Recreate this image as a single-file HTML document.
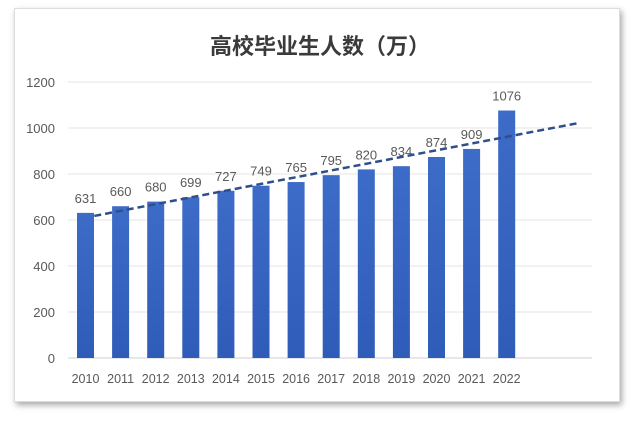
<!DOCTYPE html>
<html><head><meta charset="utf-8"><style>
body{margin:0;background:#fff;}
#card{position:absolute;left:14px;top:8px;width:604px;height:392px;background:#fff;box-shadow:2px 3px 6px rgba(0,0,0,0.35);border:1px solid #ddd;}
svg{position:absolute;left:0;top:0;}
text{font-family:"Liberation Sans","Noto Sans CJK SC",sans-serif;}
</style></head><body>
<div id="card"></div>
<svg id="c" width="640" height="425">
<defs><linearGradient id="g" x1="0" y1="0" x2="0" y2="1"><stop offset="0" stop-color="#3d6bc8"/><stop offset="1" stop-color="#2f5cb8"/></linearGradient></defs>
<text x="320" y="54" text-anchor="middle" font-size="22" font-weight="bold" fill="#3a3a3a">高校毕业生人数（万）</text>
</svg>
<script>
const categories=["2010","2011","2012","2013","2014","2015","2016","2017","2018","2019","2020","2021","2022"];
const values=[631,660,680,699,727,749,765,795,820,834,874,909,1076];
const yTicks=[0,200,400,600,800,1000,1200];
const svg=document.getElementById('c');
const NS='http://www.w3.org/2000/svg';
const y0=358,yTop=82,yMax=1200;
const yS=v=>y0-(v/yMax)*(y0-yTop);
const x0=85.5,step=35.1;
const xS=i=>x0+i*step;
function mk(t,a){const e=document.createElementNS(NS,t);for(const k in a)e.setAttribute(k,a[k]);svg.appendChild(e);return e;}
yTicks.forEach(t=>{
 const l=mk('line',{x1:68,x2:592,y1:yS(t),y2:yS(t),stroke:t===0?'#cfcfcf':'#e6e6e6','stroke-width':1});
 
 
 const tx=mk('text',{x:55,y:yS(t)+5,'text-anchor':'end','font-size':13,fill:'#595959'});
 tx.textContent=t;
 
 
});
values.forEach((v,i)=>{
 const r=mk('rect',{x:xS(i)-8.5,y:yS(v),width:17,height:y0-yS(v),fill:'url(#g)'});
 
 
 const lb=mk('text',{x:xS(i),y:yS(v)-10,'text-anchor':'middle','font-size':13,fill:'#595959'});
 lb.textContent=v;
 
 
 const cx=mk('text',{x:xS(i),y:383,'text-anchor':'middle','font-size':12.5,fill:'#595959'});
 cx.textContent=categories[i];
 
 
});
const n=values.length;let mx=(n-1)/2,my=values.reduce((a,b)=>a+b,0)/n,num=0,den=0;
values.forEach((v,i)=>{num+=(i-mx)*v;den+=(i-mx)*(i-mx);});
const sl=num/den,ic=my-sl*mx;
const iA=0.25,iB=14.1;
const tl=mk('line',{x1:xS(iA),y1:yS(ic+sl*iA),x2:xS(iB),y2:yS(ic+sl*iB),stroke:'#2f4f8a','stroke-width':2.5,'stroke-dasharray':'7,4'});


</script>
</body></html>
